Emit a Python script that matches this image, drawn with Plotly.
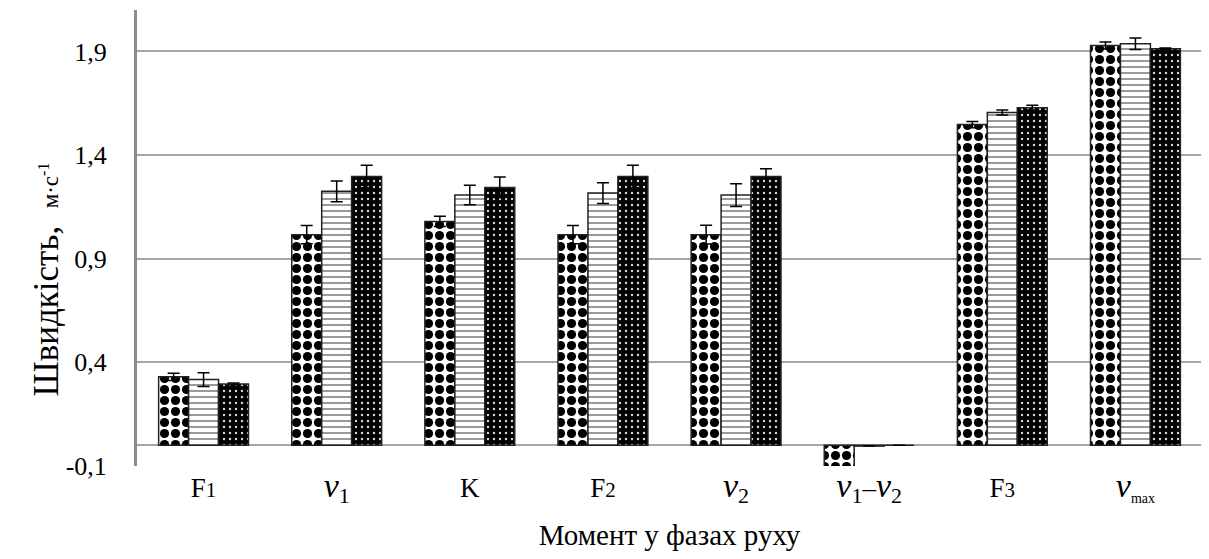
import plotly.graph_objects as go

V = "<span style='font-size:34px'><i>v</i></span>"
categories = ["F<span style='font-size:21px'>1</span>",
              V + "<sub><span style='font-size:22px'>1</span></sub>",
              "K",
              "F<span style='font-size:21px'>2</span>",
              V + "<sub><span style='font-size:22px'>2</span></sub>",
              V + "<sub><span style='font-size:22px'>1</span></sub>–" + V + "<sub><span style='font-size:22px'>2</span></sub>",
              "F<span style='font-size:21px'>3</span>",
              V + "<sub><span style='font-size:14px'>max</span></sub>"]

series1 = [0.330, 1.016, 1.080, 1.016, 1.016, -0.12, 1.547, 1.929]
series2 = [0.317, 1.225, 1.207, 1.217, 1.207, -0.004, 1.605, 1.937]
series3 = [0.296, 1.297, 1.244, 1.297, 1.297, 0.0, 1.629, 1.913]

err1 = [0.017, 0.044, 0.025, 0.044, 0.045, 0.0, 0.015, 0.017]
err2 = [0.033, 0.050, 0.047, 0.050, 0.055, 0.0, 0.012, 0.028]
err3 = [0.005, 0.054, 0.050, 0.054, 0.037, 0.0, 0.012, 0.004]

ytick_vals = [-0.1, 0.4, 0.9, 1.4, 1.9]
ytick_text = ["-0,1", "0,4", "0,9", "1,4", "1,9"]

y_title = "Швидкість,  <span style='font-size:23px'>м·с<sup>-1</sup></span>"
x_title = "Момент у фазах руху"

serif = "Liberation Serif"
x_idx = list(range(len(categories)))

fig = go.Figure()

fig.add_trace(go.Bar(
    x=x_idx, y=series1,
    marker=dict(color="white",
                line=dict(color="#222222", width=1.5),
                pattern=dict(shape=".", bgcolor="white", fgcolor="black",
                             size=11, solidity=0.55, fillmode="replace")),
    error_y=dict(type="data", array=err1, color="black", thickness=1.5, width=6),
    showlegend=False,
))
fig.add_trace(go.Bar(
    x=x_idx, y=series2,
    marker=dict(color="white",
                line=dict(color="#222222", width=1.5),
                pattern=dict(shape="-", bgcolor="white", fgcolor="#666666",
                             size=6, solidity=0.22, fillmode="replace")),
    error_y=dict(type="data", array=err2, color="black", thickness=1.5, width=6),
    showlegend=False,
))
fig.add_trace(go.Bar(
    x=x_idx, y=series3,
    marker=dict(color="black",
                line=dict(color="#222222", width=1.5),
                pattern=dict(shape=".", bgcolor="black", fgcolor="#d8d8d8",
                             size=6, solidity=0.12, fillmode="replace")),
    error_y=dict(type="data", array=err3, color="black", thickness=1.5, width=6),
    showlegend=False,
))

# page body has an 8px margin, so the figure is 8px smaller and margins shifted
fig.update_layout(
    width=1201, height=551,
    margin=dict(l=129, r=7, t=2, b=93),
    paper_bgcolor="white", plot_bgcolor="white",
    barmode="group", bargap=0.325, bargroupgap=0.0,
    font=dict(family=serif, color="black", size=24),
    xaxis=dict(
        tickmode="array", tickvals=x_idx, ticktext=categories,
        range=[-0.5, len(categories) - 0.5],
        showline=False, showgrid=False, zeroline=False, ticks="",
        automargin=False, ticklabelstandoff=3,
        tickfont=dict(family=serif, size=27, color="black"),
        title=dict(text=x_title, standoff=18,
                   font=dict(family=serif, size=29, color="black")),
    ),
    yaxis=dict(
        range=[-0.1, 2.1],
        tickmode="array", tickvals=ytick_vals, ticktext=ytick_text,
        showgrid=True, gridcolor="#a6a6a6", gridwidth=2,
        zeroline=True, zerolinecolor="#a6a6a6", zerolinewidth=2,
        showline=True, linecolor="#8c8c8c", linewidth=3,
        ticks="", ticklen=0, automargin=False, ticklabelstandoff=22,
        tickfont=dict(family=serif, size=26, color="black"),
    ),
    annotations=[dict(
        text=y_title, textangle=-90,
        xref="paper", yref="paper", x=-0.085, y=0.41,
        xanchor="center", yanchor="middle", showarrow=False,
        font=dict(family=serif, size=35, color="black"),
    )],
)

fig.write_html("out.html")
